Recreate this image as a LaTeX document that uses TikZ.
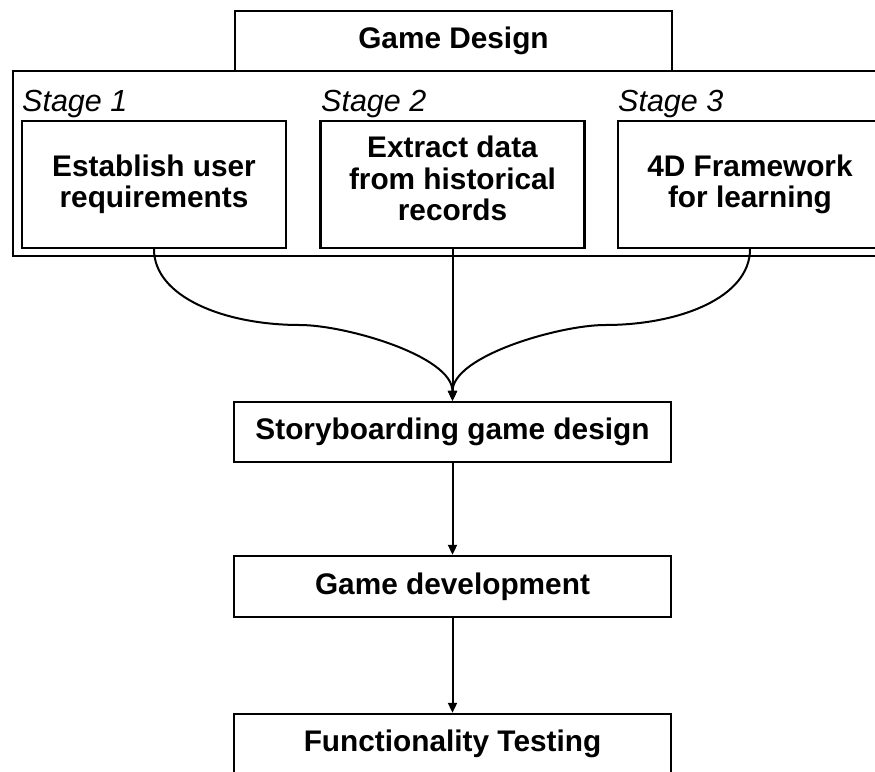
\documentclass[tikz,border=0pt]{standalone}
\usepackage{fontspec}
\setmainfont{Liberation Sans}
\usetikzlibrary{arrows.meta}
\begin{document}
\begin{tikzpicture}[x=1pt,y=-1pt,
  box/.style={draw,line width=2.4pt,inner sep=0pt,align=center,
    font=\bfseries\fontsize{29.8pt}{31.5pt}\selectfont},
  boxtext/.style={inner sep=0pt,align=center,
    font=\bfseries\fontsize{29.8pt}{31.5pt}\selectfont},
  stagelbl/.style={anchor=base west,inner sep=0pt,
    font=\itshape\fontsize{30.5pt}{32pt}\selectfont},
  conn/.style={line width=2pt,-{Triangle[length=10pt,width=9pt]}}]
\useasboundingbox (0,0) rectangle (875,771);
\clip (0,0) rectangle (875,771);
% frame of the game design stage
\node[box,minimum width=877pt,minimum height=185pt] (outer) at (451.5,163.5) {};
\node[box,minimum width=437pt,minimum height=60pt] (gd) at (453.5,41) {Game Design};
% stage labels
\node[stagelbl] (l1) at (22,111) {Stage 1};
\node[stagelbl] (l2) at (321,111) {Stage 2};
\node[stagelbl] (l3) at (618,111) {Stage 3};
% stage boxes
\node[box,minimum width=264pt,minimum height=127pt] (s1) at (154,184.5) {Establish user\\requirements};
\node[box,minimum width=264pt,minimum height=127pt] (s2) at (452.5,184.5) {};
\node[boxtext] (s2t) at (452.5,178.5) {Extract data\\from historical\\records};
\node[box,minimum width=264pt,minimum height=127pt] (s3) at (750,184.5) {4D Framework\\for learning};
% process boxes
\node[box,minimum width=437pt,minimum height=60pt] (sb) at (452.5,432) {Storyboarding game design};
\node[box,minimum width=437pt,minimum height=61pt] (dev) at (452.5,586.5) {Game development};
\node[box,minimum width=437pt,minimum height=60pt] (ft) at (452.5,744) {Functionality Testing};
% merge points of the curved connectors
\coordinate (m1) at (300,325);
\coordinate (m3) at (605,325);
% connectors
\draw[conn] (s1.south) .. controls +(0,48) and +(-75,0) .. (m1)
  .. controls +(45,0) and +(0,-45) .. (sb.north);
\draw[conn] (s3.south) .. controls +(0,48) and +(75,0) .. (m3)
  .. controls +(-45,0) and +(0,-45) .. (sb.north);
\draw[conn] (s2.south) -- (sb.north);
\draw[conn] (sb.south) -- (dev.north);
\draw[conn] (dev.south) -- (ft.north);
\end{tikzpicture}
\end{document}
